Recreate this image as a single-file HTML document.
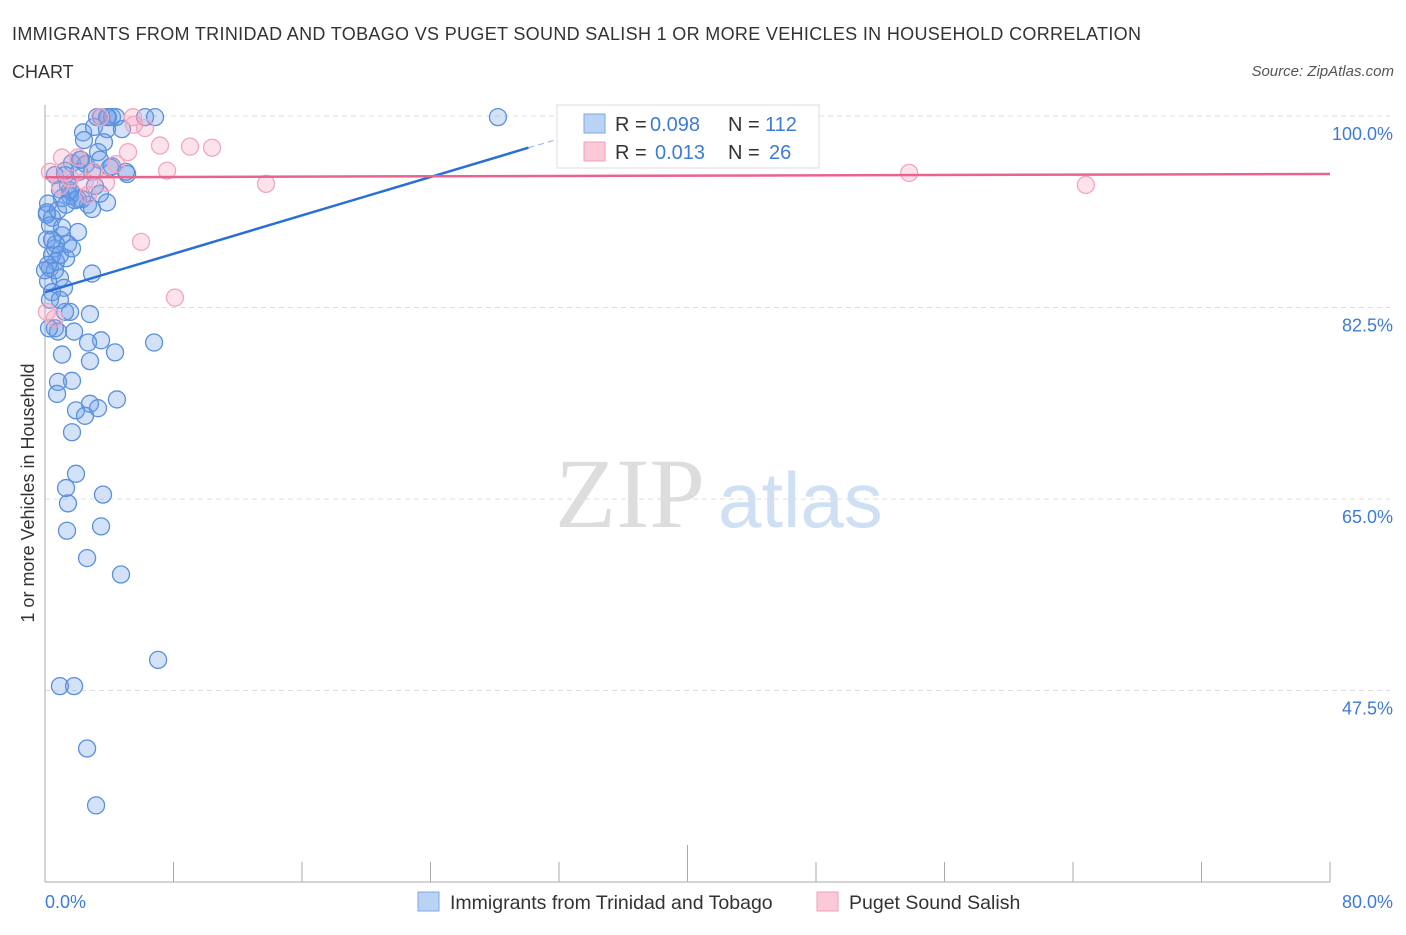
<!DOCTYPE html>
<html><head><meta charset="utf-8"><style>
body{margin:0;background:#fff;font-family:"Liberation Sans",sans-serif;}
svg text{font-family:"Liberation Sans",sans-serif;}
</style></head><body>
<svg id="c" width="1406" height="930">
<text x="12" y="40" font-size="18" fill="#333" textLength="1129">IMMIGRANTS FROM TRINIDAD AND TOBAGO VS PUGET SOUND SALISH 1 OR MORE VEHICLES IN HOUSEHOLD CORRELATION</text>
<text x="12" y="78" font-size="18" fill="#333">CHART</text>
<text x="1394" y="76" font-size="15" fill="#555" font-style="italic" text-anchor="end">Source: ZipAtlas.com</text>
<text x="34" y="493" font-size="18" fill="#333" text-anchor="middle" transform="rotate(-90 34 493)">1 or more Vehicles in Household</text>
<text x="555" y="527" font-size="100" fill="#ddd" style="font-family:'Liberation Serif',serif">ZIP</text>
<text x="718" y="527" font-size="78" fill="#cfe0f5">atlas</text>
<g id="grid"></g><g id="axes"></g><g id="pts"></g><g id="lines"></g>
<g>
<rect x="557" y="105" width="262" height="63" fill="#fff" stroke="#ddd"/>
<rect x="584" y="114" width="21" height="19" fill="#b9d3f5" stroke="#7aa8e8"/>
<rect x="584" y="142" width="21" height="19" fill="#fcc9d8" stroke="#f0a0b8"/>
<text x="615" y="131" font-size="20" fill="#333">R = <tspan x="650" fill="#3d7bd9">0.098</tspan><tspan x="728">N = </tspan><tspan x="765" fill="#3d7bd9">112</tspan></text>
<text x="615" y="159" font-size="20" fill="#333">R = <tspan x="655" fill="#3d7bd9">0.013</tspan><tspan x="728">N = </tspan><tspan x="769" fill="#3d7bd9">26</tspan></text>
</g>
<g>
<rect x="418" y="892" width="21" height="19" fill="#b9d3f5" stroke="#7aa8e8"/>
<text x="450" y="909" font-size="19.5" fill="#333">Immigrants from Trinidad and Tobago</text>
<rect x="817" y="892" width="21" height="19" fill="#fcc9d8" stroke="#f0a0b8"/>
<text x="849" y="909" font-size="19.5" fill="#333">Puget Sound Salish</text>
</g>
</svg>
<script>
const blueX=[3.24,3.49,3.86,4.17,4.42,6.23,6.85,28.2,2.37,3.05,3.86,4.79,2.43,3.67,3.30,2.24,1.68,4.17,5.11,0.62,1.25,2.12,2.93,0.93,1.43,1.68,2.05,2.68,3.86,2.93,1.56,0.19,0.12,0.44,0.31,2.05,1.06,0.12,1.43,0.62,1.31,0.68,0.31,2.93,0.93,0.19,1.18,0.44,2.80,1.56,1.25,0.62,0.81,1.81,3.49,2.68,6.79,4.36,1.06,2.80,1.68,0.81,0.75,4.48,2.80,1.93,3.30,2.49,1.68,1.93,1.31,3.61,1.43,3.49,1.37,2.62,4.73,7.04,0.93,1.81,2.62,3.18,0.12,0.44,0.19,0.62,0.93,0.81,2.30,1.87,1.56,1.06,1.31,2.18,2.55,3.42,5.04,0,0.31,0.93,1.06,1.68,0.68,3.92,4.05,0.25,0.44,3.11,3.42,1.25];
const blueY=[99.9,99.9,99.9,99.9,99.9,99.9,99.9,99.9,98.5,99.0,98.8,98.8,97.8,97.6,96.7,96.0,95.7,95.4,94.7,94.6,95.0,94.9,94.9,93.3,93.7,93.0,92.4,91.9,92.1,91.5,92.7,92.0,91.2,90.7,90.0,89.4,89.1,88.7,88.3,87.9,87.0,86.7,86.1,85.6,85.2,84.9,84.3,83.9,81.9,82.1,82.1,80.6,80.3,80.3,79.5,79.3,79.3,78.4,78.2,77.6,75.8,75.7,74.6,74.1,73.7,73.1,73.3,72.6,71.1,67.3,66.0,65.4,64.6,62.5,62.1,59.6,58.1,50.3,47.9,47.9,42.2,37.0,91.0,87.3,86.4,85.9,83.2,91.4,92.4,92.3,93.2,92.5,91.9,96.0,95.6,96.0,94.9,85.9,83.2,87.3,89.8,87.9,88.3,99.9,95.3,80.6,88.7,93.6,92.9,94.6];
const pinkX=[0.31,1.06,2.05,2.49,3.05,3.80,4.42,5.17,5.54,6.23,5.48,7.16,9.03,10.4,7.60,13.76,5.98,8.09,53.8,64.8,0.93,1.56,2.68,0.12,0.62,3.42];
const pinkY=[94.9,96.2,96.2,94.0,94.9,93.9,95.6,96.7,99.2,98.9,99.9,97.3,97.2,97.1,95.0,93.8,88.5,83.4,94.8,93.7,93.6,94.3,92.8,82.1,81.5,99.9];
const blueTrend=[0,83.9,30.1,97.1,32,97.9];
const pinkTrend=[0,94.4,80,94.7];
const yTicks=[100,82.5,65,47.5];
const yTickLabels=["100.0%","82.5%","65.0%","47.5%"];
const xTickLabels=["0.0%","80.0%"];
const NS="http://www.w3.org/2000/svg";
const X=v=>45+v*(1285/80);
const Y=v=>116+(100-v)*(191.5/17.5);
function mk(tag,attrs,parent){const e=document.createElementNS(NS,tag);for(const k in attrs)e.setAttribute(k,attrs[k]);document.getElementById(parent).appendChild(e);return e;}
yTicks.forEach((t,i)=>{
 const l=mk('line',{x1:45,x2:1390,y1:Y(t),y2:Y(t),stroke:'#ddd','stroke-dasharray':'5,4'},'grid');
 
 
 const tx=mk('text',{x:1393,y:Y(t)+24,'font-size':18,fill:'#3d7bd9','text-anchor':'end'},'grid');
 tx.textContent=yTickLabels[i];
 
 
});
const ax=mk('line',{x1:45,x2:45,y1:105,y2:882,stroke:'#aaa'},'axes');


const bx=mk('line',{x1:45,x2:1330,y1:882,y2:882,stroke:'#aaa'},'axes');


for(let i=0;i<=10;i++){
 const v=i*8;
 const tk=mk('line',{x1:X(v),x2:X(v),y1:(i==5?845:862),y2:882,stroke:'#aaa'},'axes');
 
 
}
[[0,'start',45],[80,'end',1393]].forEach((a,i)=>{
 const t=mk('text',{x:a[2],y:908,'font-size':18,fill:'#3d7bd9','text-anchor':a[1]},'axes');
 t.textContent=xTickLabels[i];
 
 
});
blueX.forEach((x,i)=>{
 const c=mk('circle',{cx:X(x),cy:Y(blueY[i]),r:8.5,fill:'rgba(110,160,235,0.3)',stroke:'#5a90dc','stroke-width':1.3},'pts');
 
 
});
pinkX.forEach((x,i)=>{
 const c=mk('circle',{cx:X(x),cy:Y(pinkY[i]),r:8.5,fill:'rgba(245,160,190,0.3)',stroke:'#f2a6bf','stroke-width':1.3},'pts');
 
 
});
const bl=mk('line',{x1:X(blueTrend[0]),y1:Y(blueTrend[1]),x2:X(blueTrend[2]),y2:Y(blueTrend[3]),stroke:'#2a6fd6','stroke-width':2.5},'lines');


const bd=mk('line',{x1:X(blueTrend[2]),y1:Y(blueTrend[3]),x2:X(blueTrend[4]),y2:Y(blueTrend[5]),stroke:'#9bbbe8','stroke-width':1.2,'stroke-dasharray':'6,4'},'lines');


const pl=mk('line',{x1:X(pinkTrend[0]),y1:Y(pinkTrend[1]),x2:X(pinkTrend[2]),y2:Y(pinkTrend[3]),stroke:'#e8648e','stroke-width':2.5},'lines');


</script>
</body></html>
